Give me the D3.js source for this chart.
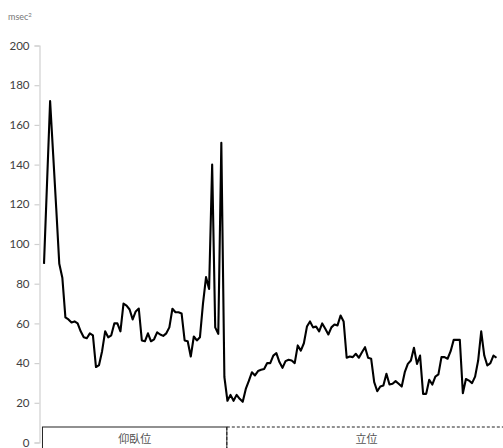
<!DOCTYPE html>
<html>
<head>
<meta charset="utf-8">
<script src="https://cdn.jsdelivr.net/npm/d3@7"></script>
<style>
  html, body { margin: 0; padding: 0; background: #fff; }
  svg { display: block; }
</style>
</head>
<body>
<svg id="chart" width="503" height="448"></svg>
<script>
// Spectral power series (msec²), one value per sample
const values = [
  90, 131, 172, 145, 118, 90, 83, 63, 62, 60.5,
  61, 60, 56, 53, 52.5, 55, 54, 38, 39, 46,
  56, 53, 54, 60, 60, 56, 70, 69, 67, 62,
  66, 67.5, 51.4, 51, 55, 51, 52, 55.5, 54.4, 53.7,
  55, 58, 67.4, 65.6, 65.6, 65, 51.4, 51, 43.3, 53.4,
  51.4, 53, 70, 83.3, 77.4, 140, 58, 54.7, 151, 33,
  21, 24, 21, 24, 22, 20.5, 27, 31, 35.4, 33.8,
  36, 36.6, 37, 40, 40, 43.8, 45, 40.5, 37.6, 41,
  41.7, 41.3, 40, 48.9, 46.3, 50, 58.4, 61, 58, 58.4,
  56, 60, 57.3, 54.4, 58, 59.4, 59, 64, 61, 42.7,
  43.3, 43, 44.7, 42.7, 45.5, 48, 42.7, 42.2, 30.4, 25.8,
  28.2, 28.7, 34.6, 29.2, 29.6, 30.9, 29.6, 28.2, 35.4, 39.6,
  41.3, 47.7, 39.6, 43.8, 24.5, 24.5, 31.6, 29.2, 33.2, 34.3,
  43, 43, 42.2, 46, 51.7, 51.7, 51.7, 24.8, 32, 31.2,
  29.9, 33.2, 41.3, 56, 43.8, 38.8, 40, 43.8, 42.7
];

// Posture phases along the sample index
const phaseLabels = ["仰臥位", "立位"];
const phaseStart = [-0.5, 59.8];
const phaseEnd = [59.8, 160];

const yTicks = [0, 20, 40, 60, 80, 100, 120, 140, 160, 180, 200];
const unitLabel = "msec";

const svg = d3.select("#chart");

const x = d3.scaleLinear().domain([0, values.length - 1]).range([44, 496.5]);
const y = d3.scaleLinear().domain([0, 200]).range([442.5, 45.5]);

// Y axis
const yAxis = d3.axisLeft(y).tickValues(yTicks).tickSize(5).tickPadding(5);
const gy = svg.append("g").attr("transform", "translate(39.5,0)").call(yAxis);
gy.select(".domain").attr("stroke", "#d0d0d0").attr("stroke-width", 1.2);
gy.selectAll(".tick line").attr("stroke", "#d0d0d0").attr("stroke-width", 1.2);
gy.selectAll(".tick text")
  .attr("fill", "#404040")
  .style("font-family", "Lato, 'Liberation Sans', sans-serif")
  .style("font-size", "11.5px");

// Unit label
const unit = svg.append("text")
  .attr("x", 8).attr("y", 20)
  .attr("fill", "#777")
  .style("font-family", "Lato, 'Liberation Sans', sans-serif")
  .style("font-size", "9px")
  .text(unitLabel);
unit.append("tspan").attr("dy", -3).style("font-size", "6px").text("2");

// Phase boxes along the bottom
const boxTop = 427;
const xBox0 = x(phaseStart[0]);
const xMid = x(phaseEnd[0]);
const xBox1 = x(phaseEnd[1]);
svg.append("rect")
  .attr("x", xBox0).attr("y", boxTop)
  .attr("width", xMid - xBox0).attr("height", 30)
  .attr("fill", "none").attr("stroke", "#222").attr("stroke-width", 1);
svg.append("path")
  .attr("d", `M${xMid},${boxTop}H${xBox1}`)
  .attr("fill", "none").attr("stroke", "#222").attr("stroke-width", 1)
  .attr("stroke-dasharray", "3,2");
svg.append("path")
  .attr("d", `M${xMid},${boxTop}V460`)
  .attr("fill", "none").attr("stroke", "#222").attr("stroke-width", 1)
  .attr("stroke-dasharray", "3,2");

svg.append("text")
  .attr("x", (xBox0 + xMid) / 2).attr("y", 443)
  .attr("text-anchor", "middle").attr("fill", "#555")
  .style("font-family", "'Noto Sans CJK JP', sans-serif")
  .style("font-size", "11px")
  .text(phaseLabels[0]);
svg.append("text")
  .attr("x", 366.5).attr("y", 443)
  .attr("text-anchor", "middle").attr("fill", "#555")
  .style("font-family", "'Noto Sans CJK JP', sans-serif")
  .style("font-size", "11px")
  .text(phaseLabels[1]);

// Series line
const line = d3.line().x((d, i) => x(i)).y(d => y(d));
svg.append("path")
  .datum(values)
  .attr("d", line)
  .attr("fill", "none")
  .attr("stroke", "#000")
  .attr("stroke-width", 2.1)
  .attr("stroke-linejoin", "round");
</script>
</body>
</html>
